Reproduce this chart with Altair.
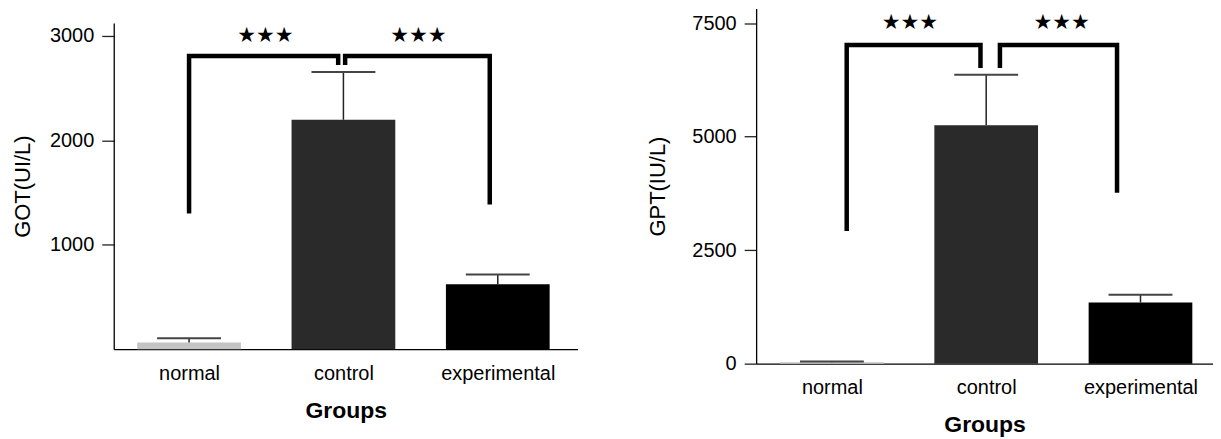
import altair as alt
import pandas as pd

# ---------------- data ----------------
groups = ["normal", "control", "experimental"]
group_idx = [0, 1, 2]

got_mean = [65, 2197, 621]
got_err_top = [105, 2655, 716]
gpt_mean = [30, 5249, 1346]
gpt_err_top = [50, 6363, 1515]

# significance brackets (x in group-index units, y in data units)
got_br1_x = [0.0, 0.0, 0.966, 0.966]
got_br1_y = [1299, 2808, 2808, 2722]
got_br2_x = [1.011, 1.011, 1.948, 1.948]
got_br2_y = [2722, 2808, 2808, 1385]
got_star_x = [0.494, 1.486]
got_star_y = [3004, 3004]

gpt_br1_x = [0.096, 0.096, 0.963, 0.963]
gpt_br1_y = [2921, 7017, 7017, 6511]
gpt_br2_x = [1.089, 1.089, 1.848, 1.848]
gpt_br2_y = [6511, 7017, 7017, 3762]
gpt_star_x = [0.505, 1.489]
gpt_star_y = [7500, 7500]

star_label = "★★★"
bar_colors = ["#c4c4c4", "#2a2a2a", "#000000"]

BAR_HALF = 0.336
CAP_HALF = 0.207
FONT = "Liberation Sans"

label_expr = "[" + ",".join("'%s'" % g for g in groups) + "][datum.value]"


def panel(means, errs, br1x, br1y, br2x, br2y, sx, sy, ytitle, yticks,
          ydom, xdom, width, height, ytitle_pad):
    bars = pd.DataFrame({
        "group": groups,
        "x": [i - BAR_HALF for i in group_idx],
        "x2": [i + BAR_HALF for i in group_idx],
        "xc": group_idx,
        "cx": [i - CAP_HALF for i in group_idx],
        "cx2": [i + CAP_HALF for i in group_idx],
        "mean": means,
        "err": errs,
    })
    brackets = pd.DataFrame({
        "bx": br1x + br2x,
        "by": br1y + br2y,
        "br": ["a"] * len(br1x) + ["b"] * len(br2x),
        "ord": list(range(len(br1x))) + list(range(len(br2x))),
    })
    stars = pd.DataFrame({"sx": sx, "sy": sy, "t": [star_label] * len(sx)})

    xscale = alt.Scale(domain=xdom, nice=False, zero=False)
    yscale = alt.Scale(domain=ydom, nice=False)

    xaxis = alt.Axis(values=group_idx, labelExpr=label_expr, ticks=False,
                     tickSize=0, grid=False, labelFontSize=20, labelFont=FONT,
                     labelColor="#000", labelPadding=14, title="Groups",
                     titleFont=FONT, titleFontSize=23, titleFontWeight="bold",
                     titleColor="#000", titlePadding=16, domainColor="#000",
                     domainWidth=1.3)
    yaxis = alt.Axis(values=yticks, format="d", grid=False, tickSize=12,
                     tickColor="#222", tickWidth=1.3, labelFontSize=20,
                     labelFont=FONT, labelColor="#000", labelPadding=8,
                     title=ytitle, titleFont=FONT, titleFontSize=22,
                     titleFontWeight="normal", titleColor="#000",
                     titlePadding=ytitle_pad, domainColor="#000",
                     domainWidth=1.3)

    bar_layer = alt.Chart(bars).mark_bar().encode(
        x=alt.X("x:Q", scale=xscale, axis=xaxis),
        x2="x2:Q",
        y=alt.Y("mean:Q", scale=yscale, axis=yaxis),
        y2=alt.datum(0),
        color=alt.Color("group:N", scale=alt.Scale(domain=groups, range=bar_colors),
                        legend=None),
    )
    err_layer = alt.Chart(bars).mark_rule(color="#222", strokeWidth=1.5).encode(
        x="xc:Q", y="mean:Q", y2="err:Q")
    cap_layer = alt.Chart(bars).mark_rule(color="#444", strokeWidth=2).encode(
        x="cx:Q", x2="cx2:Q", y="err:Q")
    br_layer = alt.Chart(brackets).mark_line(
        color="#000", strokeWidth=4.5, strokeJoin="miter", strokeCap="butt"
    ).encode(x="bx:Q", y="by:Q", detail="br:N", order="ord:Q")
    star_layer = alt.Chart(stars).mark_text(
        font="DejaVu Sans", fontSize=21, color="#000", baseline="middle"
    ).encode(x="sx:Q", y="sy:Q", text="t:N")

    layer = alt.layer(bar_layer, err_layer, cap_layer, br_layer, star_layer)
    return layer.properties(
        width=width, height=height,
        view=alt.ViewBackground(stroke="transparent", strokeWidth=0),
    )


left = panel(got_mean, got_err_top, got_br1_x, got_br1_y, got_br2_x, got_br2_y,
             got_star_x, got_star_y, "GOT(UI/L)", [1000, 2000, 3000],
             [0, 3124], [-0.488, 2.517], 465, 327, 15)
right = panel(gpt_mean, gpt_err_top, gpt_br1_x, gpt_br1_y, gpt_br2_x, gpt_br2_y,
              gpt_star_x, gpt_star_y, "GPT(IU/L)", [0, 2500, 5000, 7500],
              [0, 7820], [-0.491, 2.47], 458, 356, 22)

chart = alt.hconcat(left, right, spacing=69, center=True).properties(
    padding={"left": 3, "top": 0, "right": 0, "bottom": 0}
).configure_view(strokeWidth=0, stroke="transparent").configure(background="white")

chart.save("out.html", embed_options={"renderer": "svg", "actions": False})
